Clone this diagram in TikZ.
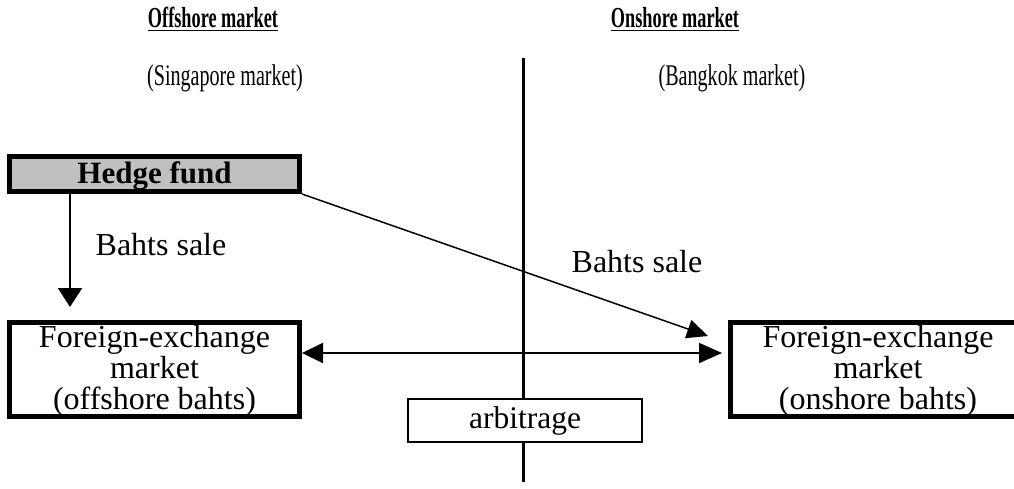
\documentclass[tikz,border=0pt]{standalone}
\usepackage{fontspec}
\setmainfont{Liberation Serif}
\newfontfamily\condfont[FakeStretch=0.67]{Liberation Serif}
\newfontfamily\condbold[FakeStretch=0.63]{Liberation Serif Bold}
\usetikzlibrary{arrows.meta}
\begin{document}
\begin{tikzpicture}[x=1pt,y=-1pt,
  fxbox/.style={draw, line width=5pt, inner sep=0pt, minimum height=94pt},
  fxtext/.style={inner sep=0pt, align=center, font=\fontsize{32}{31}\selectfont},
  hedgebox/.style={draw, line width=5pt, inner sep=0pt, fill=hedgegray,
    minimum width=290pt, minimum height=35pt},
  hedgetext/.style={inner sep=0pt, font=\bfseries\fontsize{31}{32}\selectfont},
  arbbox/.style={draw, line width=1.5pt, fill=white, inner sep=0pt,
    minimum width=234pt, minimum height=43pt, font=\fontsize{31.5}{32}\selectfont},
  lbl/.style={font=\fontsize{32}{32}\selectfont, inner sep=0pt, anchor=base},
  hdr/.style={font=\condbold\fontsize{29}{30}\selectfont, inner sep=0pt, anchor=base},
  subhdr/.style={font=\condfont\fontsize{30}{32}\selectfont, inner sep=0pt, anchor=base},
  downarr/.style={line width=2pt, -{Triangle[length=19pt,width=24pt]}},
  diagarr/.style={line width=1.5pt, -{Triangle[length=21pt,width=19pt]}},
  dblarr/.style={line width=2pt, {Triangle[length=21pt,width=20pt]}-{Triangle[length=23pt,width=20pt]}},
]
\definecolor{hedgegray}{RGB}{192,192,192}
\useasboundingbox (0,0) rectangle (1014,488);
\clip (0,0) rectangle (1014,488);

% headers
\node[hdr] (h1) at (213,27) {Offshore market};
\node[hdr] (h2) at (675,27) {Onshore market};
\draw[line width=1.8pt] ([yshift=-3.5pt]h1.base west) -- ([yshift=-3.5pt]h1.base east);
\draw[line width=1.8pt] ([yshift=-3.5pt]h2.base west) -- ([yshift=-3.5pt]h2.base east);
\node[subhdr] (s1) at (225,85) {(Singapore market)};
\node[subhdr] (s2) at (732,85) {(Bangkok market)};

% dividing line
\coordinate (vtop) at (523,58);
\coordinate (vbot) at (523,482);
\draw[line width=3pt] (vtop) -- (vbot);

% boxes
\node[hedgebox] (hedge) at (154.5,174) {};
\node[hedgetext] (hedgeT) at ([yshift=-2.5pt]hedge.center) {Hedge fund};
\node[fxbox, minimum width=290pt] (fxL) at (154.5,369.5) {};
\node[fxtext] (fxLT) at ([yshift=-1pt]fxL.center) {Foreign-exchange\\market\\(offshore bahts)};
\node[fxbox, minimum width=295pt] (fxR) at (878,369.5) {};
\node[fxtext] (fxRT) at ([yshift=-1pt]fxR.center) {Foreign-exchange\\market\\(onshore bahts)};
\node[arbbox] (arb) at (525,420.5) {arbitrage};

% connectors
\draw[downarr] ([xshift=63pt]hedge.south west) -- ([xshift=63pt,yshift=13pt]fxL.north west);
\draw[diagarr] (hedge.south east) -- ([xshift=-20pt,yshift=-16pt]fxR.north west);
\draw[dblarr] ([yshift=16.5pt]fxL.east) -- ([yshift=16.5pt,xshift=-6pt]fxR.west);

% labels
\node[lbl] (l1) at (161,255) {Bahts sale};
\node[lbl] (l2) at (637,272) {Bahts sale};
\end{tikzpicture}
\end{document}
